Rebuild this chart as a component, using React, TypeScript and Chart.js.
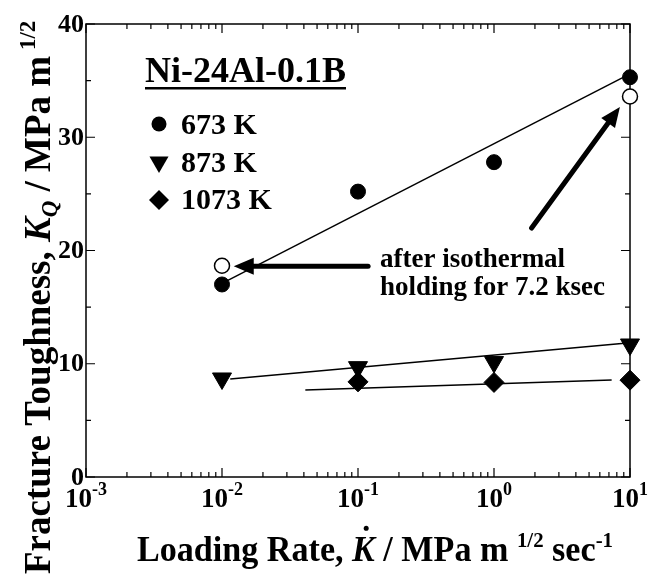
import React, { useEffect, useRef } from 'react';
import { Chart, registerables } from 'chart.js';

Chart.register(...registerables);

// ---- data ----
const rates673 = [0.01, 0.1, 1, 10];
const kq673 = [17.0, 25.2, 27.8, 35.3];
const rates673Held = [0.01, 10];
const kq673Held = [18.65, 33.6];
const rates873 = [0.01, 0.1, 1, 10];
const kq873 = [8.7, 9.7, 10.15, 11.7];
const rates1073 = [0.1, 1, 10];
const kq1073 = [8.4, 8.35, 8.55];

const fit673X = [0.01, 10];
const fit673Y = [17.1, 35.6];
const fit873X = [0.0115, 10];
const fit873Y = [8.65, 11.85];
const fit1073X = [0.041, 7.33];
const fit1073Y = [7.68, 8.56];

const xTickExponents = [-3, -2, -1, 0, 1];
const yTickValues = [0, 10, 20, 30, 40];
const yMinorValues = [5, 15, 25, 35];
const legendLabels = ['673 K', '873 K', '1073 K'];
const alloyName = 'Ni-24Al-0.1B';
const noteLines = ['after isothermal', 'holding for 7.2 ksec'];

// annotation anchors in data units
const noteX = 0.145;
const noteY = [18.5, 16.1];
const arrowFromX = [0.1186, 1.89];
const arrowFromY = [18.6, 21.98];
const arrowToX = [0.0122, 8.43];
const arrowToY = [18.6, 32.68];

const SERIF = '"Liberation Serif", "Times New Roman", Times, serif';
const fnt = (size: number, italic = false) => `${italic ? 'italic ' : ''}bold ${size}px ${SERIF}`;

type Run = { t: string; size: number; italic?: boolean; dy?: number; dot?: boolean };

function runsWidth(ctx: CanvasRenderingContext2D, runs: Run[]) {
  let w = 0;
  for (const r of runs) {
    ctx.font = fnt(r.size, r.italic);
    w += ctx.measureText(r.t).width;
  }
  return w;
}

function drawRuns(ctx: CanvasRenderingContext2D, runs: Run[], x: number, y: number) {
  for (const r of runs) {
    ctx.font = fnt(r.size, r.italic);
    const w = ctx.measureText(r.t).width;
    ctx.fillText(r.t, x, y + (r.dy || 0));
    if (r.dot) {
      ctx.beginPath();
      ctx.arc(x + w * 0.62, y - r.size * 0.66 - 9, 2.6, 0, Math.PI * 2);
      ctx.fill();
    }
    x += w;
  }
}

function drawMarker(ctx: CanvasRenderingContext2D, style: string, x: number, y: number, r: number) {
  ctx.beginPath();
  if (style === 'circle') {
    ctx.arc(x, y, r, 0, Math.PI * 2);
  } else if (style === 'triangle') {
    ctx.moveTo(x - r * 0.866, y - r * 0.5);
    ctx.lineTo(x + r * 0.866, y - r * 0.5);
    ctx.lineTo(x, y + r);
    ctx.closePath();
  } else {
    ctx.moveTo(x, y - r);
    ctx.lineTo(x + r, y);
    ctx.lineTo(x, y + r);
    ctx.lineTo(x - r, y);
    ctx.closePath();
  }
  ctx.fill();
}

const decorPlugin = {
  id: 'decor',
  beforeDatasetsDraw(chart: any) {
    const ctx: CanvasRenderingContext2D = chart.ctx;
    const { left, right, top, bottom } = chart.chartArea;
    const xs = chart.scales.x;
    const ys = chart.scales.y;
    ctx.save();
    ctx.strokeStyle = '#000';
    ctx.lineWidth = 1.5;
    ctx.strokeRect(left, top, right - left, bottom - top);
    ctx.lineWidth = 1.2;
    ctx.beginPath();
    for (let e = -3; e <= 1; e++) {
      const px = xs.getPixelForValue(Math.pow(10, e));
      ctx.moveTo(px, bottom); ctx.lineTo(px, bottom - 9);
      ctx.moveTo(px, top); ctx.lineTo(px, top + 9);
      if (e < 1) {
        for (let m = 2; m <= 9; m++) {
          const pm = xs.getPixelForValue(m * Math.pow(10, e));
          ctx.moveTo(pm, bottom); ctx.lineTo(pm, bottom - 5);
          ctx.moveTo(pm, top); ctx.lineTo(pm, top + 5);
        }
      }
    }
    for (const v of yTickValues) {
      const py = ys.getPixelForValue(v);
      ctx.moveTo(left, py); ctx.lineTo(left + 9, py);
      ctx.moveTo(right, py); ctx.lineTo(right - 9, py);
    }
    for (const v of yMinorValues) {
      const py = ys.getPixelForValue(v);
      ctx.moveTo(left, py); ctx.lineTo(left + 5, py);
      ctx.moveTo(right, py); ctx.lineTo(right - 5, py);
    }
    ctx.stroke();
    ctx.restore();
  },
  afterDatasetsDraw(chart: any) {
    const ctx: CanvasRenderingContext2D = chart.ctx;
    const { left, bottom } = chart.chartArea;
    const xs = chart.scales.x;
    const ys = chart.scales.y;
    ctx.save();
    ctx.fillStyle = '#000';
    ctx.strokeStyle = '#000';

    // y tick labels
    ctx.textAlign = 'right';
    ctx.textBaseline = 'middle';
    ctx.font = fnt(26);
    for (const v of yTickValues) {
      ctx.fillText(String(v), left - 2, ys.getPixelForValue(v) + 1);
    }

    // x tick labels
    ctx.textAlign = 'left';
    ctx.textBaseline = 'alphabetic';
    for (const e of xTickExponents) {
      const px = xs.getPixelForValue(Math.pow(10, e));
      const runs: Run[] = [
        { t: '10', size: 27 },
        { t: e < 0 ? '-' + Math.abs(e) : String(e), size: 18, dy: -12 },
      ];
      const w = runsWidth(ctx, runs);
      drawRuns(ctx, runs, px - w / 2, bottom + 30);
    }

    // x title (slightly condensed to match the original typeface)
    const xTitle: Run[] = [
      { t: 'Loading Rate, ', size: 36 },
      { t: 'K', size: 36, italic: true, dot: true },
      { t: ' / MPa m ', size: 36 },
      { t: '1/2', size: 22, dy: -14 },
      { t: ' sec', size: 36 },
      { t: '-1', size: 22, dy: -14 },
    ];
    const xw = runsWidth(ctx, xTitle);
    const sx = 476 / xw;
    ctx.save();
    ctx.translate(137, 561);
    ctx.scale(sx, 1);
    drawRuns(ctx, xTitle, 0, 0);
    ctx.restore();

    // y title (rotated)
    const yTitle: Run[] = [
      { t: 'Fracture Toughness, ', size: 37 },
      { t: 'K', size: 37, italic: true },
      { t: 'Q', size: 23, italic: true, dy: 7 },
      { t: ' / MPa m', size: 37 },
      { t: ' 1/2', size: 23, dy: -15 },
    ];
    ctx.save();
    ctx.translate(50, 574);
    ctx.rotate(-Math.PI / 2);
    drawRuns(ctx, yTitle, 0, 0);
    ctx.restore();

    // legend
    ctx.font = fnt(36);
    ctx.fillText(alloyName, 145, 82);
    const tw = ctx.measureText(alloyName).width;
    ctx.fillRect(145, 87, tw, 2.5);
    const styles = ['circle', 'triangle', 'rectRot'];
    const sizes = [7.5, 11, 10];
    const rowsY = [124, 162, 200];
    const baseY = [134, 172, 209];
    ctx.font = fnt(30);
    legendLabels.forEach((lab, i) => {
      drawMarker(ctx, styles[i], 159, rowsY[i], sizes[i]);
      ctx.fillText(lab, 181, baseY[i]);
    });

    // note text
    ctx.font = fnt(27);
    noteLines.forEach((line, i) => {
      ctx.fillText(line, xs.getPixelForValue(noteX), ys.getPixelForValue(noteY[i]));
    });

    // arrows
    for (let i = 0; i < arrowFromX.length; i++) {
      const x0 = xs.getPixelForValue(arrowFromX[i]);
      const y0 = ys.getPixelForValue(arrowFromY[i]);
      const x1 = xs.getPixelForValue(arrowToX[i]);
      const y1 = ys.getPixelForValue(arrowToY[i]);
      const dx = x1 - x0, dy = y1 - y0;
      const L = Math.hypot(dx, dy);
      const ux = dx / L, uy = dy / L;
      const head = 20, hw = 8.5;
      ctx.lineWidth = 5;
      ctx.lineCap = 'round';
      ctx.beginPath();
      ctx.moveTo(x0, y0);
      ctx.lineTo(x1 - ux * head * 0.8, y1 - uy * head * 0.8);
      ctx.stroke();
      ctx.beginPath();
      ctx.moveTo(x1, y1);
      ctx.lineTo(x1 - ux * head - uy * hw, y1 - uy * head + ux * hw);
      ctx.lineTo(x1 - ux * head + uy * hw, y1 - uy * head - ux * hw);
      ctx.closePath();
      ctx.fill();
    }
    ctx.restore();
  },
};

const pts = (xs: number[], ys: number[]) => xs.map((x, i) => ({ x, y: ys[i] }));

export default function App() {
  const ref = useRef<HTMLCanvasElement | null>(null);
  useEffect(() => {
    document.body.style.margin = '0';
    const canvas = ref.current;
    if (!canvas) return;
    const lineDs = (xs: number[], ys: number[]) => ({
      data: pts(xs, ys),
      showLine: true,
      borderColor: '#000',
      borderWidth: 1.5,
      pointRadius: 0,
      fill: false,
      clip: false as any,
    });
    const chart = new Chart(canvas, {
      type: 'scatter',
      data: {
        datasets: [
          {
            label: '673 K (after holding)',
            data: pts(rates673Held, kq673Held),
            pointStyle: 'circle',
            pointRadius: 7.5,
            pointBackgroundColor: '#fff',
            pointBorderColor: '#000',
            pointBorderWidth: 1.5,
            clip: false as any,
          },
          {
            label: legendLabels[0],
            data: pts(rates673, kq673),
            pointStyle: 'circle',
            pointRadius: 7.5,
            pointBackgroundColor: '#000',
            pointBorderColor: '#000',
            pointBorderWidth: 1,
            clip: false as any,
          },
          {
            label: legendLabels[1],
            data: pts(rates873, kq873),
            pointStyle: 'triangle',
            pointRotation: 180,
            pointRadius: 11,
            pointBackgroundColor: '#000',
            pointBorderColor: '#000',
            pointBorderWidth: 1,
            clip: false as any,
          },
          {
            label: legendLabels[2],
            data: pts(rates1073, kq1073),
            pointStyle: 'rectRot',
            pointRadius: 10,
            pointBackgroundColor: '#000',
            pointBorderColor: '#000',
            pointBorderWidth: 1,
            clip: false as any,
          },
          lineDs(fit673X, fit673Y),
          lineDs(fit873X, fit873Y),
          lineDs(fit1073X, fit1073Y),
        ] as any,
      },
      options: {
        responsive: false,
        animation: false,
        devicePixelRatio: 1,
        events: [],
        layout: { padding: { left: 86, top: 24, right: 34, bottom: 101 } },
        scales: {
          x: { type: 'logarithmic', min: 0.001, max: 10, display: false },
          y: { type: 'linear', min: 0, max: 40, display: false },
        },
        plugins: { legend: { display: false }, tooltip: { enabled: false }, title: { display: false } },
      },
      plugins: [decorPlugin as any],
    });
    return () => chart.destroy();
  }, []);
  return (
    <div style={{ width: 664, height: 578, background: '#fff' }}>
      <canvas ref={ref} width={664} height={578} style={{ display: 'block' }} />
    </div>
  );
}
